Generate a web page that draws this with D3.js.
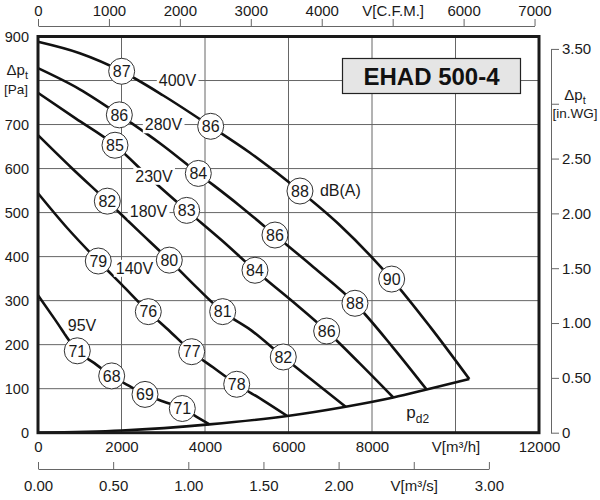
<!DOCTYPE html>
<html>
<head>
<meta charset="utf-8">
<script src="https://cdn.jsdelivr.net/npm/d3@7"></script>
<style>
  body { margin: 0; background: #fff; }
  svg { font-family: "Liberation Sans", Arial, sans-serif; }
</style>
</head>
<body>
<div id="chart"></div>
<script>
// Axis ticks
const flowTicks = [0, 2000, 4000, 6000, 8000, 10000, 12000];
const pressureTicks = [0, 100, 200, 300, 400, 500, 600, 700, 800, 900];
const cfmTicks = [0, 1000, 2000, 3000, 4000, 5000, 6000, 7000];
const m3sTicks = [0, 0.5, 1, 1.5, 2, 2.5, 3];
const inwgTicks = [0, 0.5, 1, 1.5, 2, 2.5, 3, 3.5];

// Fan curves: [V m3/h, dp Pa]
const voltages = ["400V", "280V", "230V", "180V", "140V", "95V"];
const curve400 = [[0, 888], [1000, 862], [2004, 821], [3000, 766], [4136, 696], [5077, 636], [6275, 549], [7200, 474], [8031, 395], [8471, 349], [9389, 241], [10330, 122]];
const curve280 = [[0, 828], [1000, 780], [1948, 722], [3000, 652], [3840, 589], [4800, 518], [5676, 449], [6600, 376], [7592, 294], [8500, 194], [9309, 98]];
const curve230 = [[0, 772], [900, 714], [1844, 653], [2700, 577], [3561, 505], [4400, 437], [5197, 369], [6100, 298], [6914, 231], [7700, 158], [8510, 80]];
const curve180 = [[0, 676], [800, 602], [1660, 526], [2400, 459], [3145, 392], [3800, 330], [4423, 275], [5100, 233], [5875, 172], [6600, 117], [7369, 59]];
const curve140 = [[0, 544], [700, 465], [1444, 390], [2000, 337], [2642, 275], [3150, 231], [3681, 184], [4200, 148], [4759, 110], [5400, 73], [5971, 38]];
const curve95 = [[0, 312], [400, 258], [941, 186], [1350, 158], [1765, 129], [2150, 108], [2563, 87], [3000, 71], [3456, 55], [3800, 36], [4103, 19]];
const curves = [curve400, curve280, curve230, curve180, curve140, curve95];

// Dynamic pressure pd2 line
const pd2Curve = [[0, 0], [2000, 5], [4103, 19], [5971, 38], [7369, 59], [8510, 80], [9309, 98], [10330, 122]];

// Sound level markers: [V m3/h, dp Pa, dB(A)]
const marks400 = [[2004, 821, 87], [4136, 696, 86], [6275, 549, 88], [8471, 349, 90]];
const marks280 = [[1948, 722, 86], [3840, 589, 84], [5676, 449, 86], [7592, 294, 88]];
const marks230 = [[1844, 653, 85], [3561, 505, 83], [5197, 369, 84], [6914, 231, 86]];
const marks180 = [[1660, 526, 82], [3145, 392, 80], [4423, 275, 81], [5875, 172, 82]];
const marks140 = [[1444, 390, 79], [2642, 275, 76], [3681, 184, 77], [4759, 110, 78]];
const marks95 = [[941, 186, 71], [1765, 129, 68], [2563, 87, 69], [3456, 55, 71]];
const marks = [marks400, marks280, marks230, marks180, marks140, marks95];

// Where the voltage labels sit: [V m3/h, dp Pa]
const voltageLabelPos = [[3341, 800], [3006, 700], [2778, 583], [2646, 504], [2311, 374], [1054, 245]];

const W = 600, H = 500;
const svg = d3.select("#chart").append("svg")
  .attr("width", W)
  .attr("height", H);

// Scales
const x = d3.scaleLinear().domain([0, 12000]).range([38, 539]);
const y = d3.scaleLinear().domain([0, 900]).range([432.7, 36.5]);
const xCfm = d3.scaleLinear().domain([0, 7000]).range([x(0), x(7000 * 1.699)]);
const xM3s = d3.scaleLinear().domain([0, 3]).range([x(0), x(3 * 3600)]);
const yInwg = d3.scaleLinear().domain([0, 3.5]).range([y(0), y(3.5 * 249.09)]);

const gridColor = "#666";
const textColor = "#1a1a1a";

// Grid lines
svg.append("g")
  .selectAll("line")
  .data(flowTicks.filter(d => d > 0 && d < 12000))
  .join("line")
  .attr("x1", d => x(d)).attr("x2", d => x(d))
  .attr("y1", y(0)).attr("y2", y(900))
  .attr("stroke", gridColor).attr("stroke-width", 1);

svg.append("g")
  .selectAll("line")
  .data(pressureTicks.filter(d => d > 0 && d < 900))
  .join("line")
  .attr("x1", x(0)).attr("x2", x(12000))
  .attr("y1", d => y(d)).attr("y2", d => y(d))
  .attr("stroke", gridColor).attr("stroke-width", 1);

// Fan curves
const line = d3.line()
  .x(d => x(d[0]))
  .y(d => y(d[1]))
  .curve(d3.curveMonotoneX);

svg.append("g")
  .selectAll("path")
  .data(curves)
  .join("path")
  .attr("d", line)
  .attr("fill", "none")
  .attr("stroke", "#111")
  .attr("stroke-width", 2.6);

// pd2 curve
svg.append("path")
  .attr("d", line(pd2Curve))
  .attr("fill", "none")
  .attr("stroke", "#111")
  .attr("stroke-width", 2.6);

// Voltage labels with white background
const vLabels = svg.append("g")
  .selectAll("g")
  .data(voltages)
  .join("g")
  .attr("transform", (d, i) => `translate(${x(voltageLabelPos[i][0])},${y(voltageLabelPos[i][1])})`);

vLabels.append("text")
  .attr("text-anchor", "middle")
  .attr("dy", "0.36em")
  .style("font-size", "16px")
  .attr("fill", textColor)
  .text(d => d);

vLabels.each(function () {
  const g = d3.select(this);
  const b = g.select("text").node().getBBox();
  g.insert("rect", "text")
    .attr("x", b.x - 2).attr("y", b.y)
    .attr("width", b.width + 4).attr("height", b.height)
    .attr("fill", "#fff");
});

// dB(A) and pd2 labels
svg.append("text")
  .attr("x", x(6754)).attr("y", y(550))
  .attr("dy", "0.36em")
  .style("font-size", "16px")
  .attr("fill", textColor)
  .text("dB(A)");

const pd2Label = svg.append("text")
  .attr("x", x(8820)).attr("y", y(34))
  .style("font-size", "17px")
  .attr("fill", textColor);
pd2Label.append("tspan").text("p");
pd2Label.append("tspan").attr("dy", 5).style("font-size", "12px").text("d2");

// Sound level circles
const markGroups = svg.append("g")
  .selectAll("g")
  .data(marks.flat())
  .join("g")
  .attr("transform", d => `translate(${x(d[0])},${y(d[1])})`);

markGroups.append("circle")
  .attr("r", 13)
  .attr("fill", "#fff")
  .attr("stroke", "#333")
  .attr("stroke-width", 1);

markGroups.append("text")
  .attr("text-anchor", "middle")
  .attr("dy", "0.36em")
  .style("font-size", "16px")
  .attr("fill", textColor)
  .text(d => d[2]);

// Plot border
svg.append("rect")
  .attr("x", x(0)).attr("y", y(900))
  .attr("width", x(12000) - x(0))
  .attr("height", y(0) - y(900))
  .attr("fill", "none")
  .attr("stroke", "#1a1a1a")
  .attr("stroke-width", 3);

// Title box
const titleG = svg.append("g").attr("transform", "translate(431.5,76)");
titleG.append("rect")
  .attr("x", -89).attr("y", -17.5)
  .attr("width", 178).attr("height", 35)
  .attr("fill", "#e5e5e5")
  .attr("stroke", "#222")
  .attr("stroke-width", 1.2);
titleG.append("text")
  .attr("text-anchor", "middle")
  .attr("dy", "0.36em")
  .style("font-size", "24px")
  .style("font-weight", "bold")
  .attr("fill", "#111")
  .text("EHAD 500-4");

// Axis styling helper
function styleAxis(g) {
  g.selectAll("path, line").attr("stroke", gridColor);
  g.selectAll("text").attr("fill", textColor).style("font-size", "15px");
}

// Left axis (Pa)
svg.append("g")
  .attr("transform", `translate(${x(0)},0)`)
  .call(d3.axisLeft(y).tickValues(pressureTicks).tickSize(0).tickPadding(9)
    .tickFormat(d => d === 800 ? "" : d))
  .call(g => g.select(".domain").remove())
  .call(styleAxis)
  .call(g => g.selectAll("text").style("font-size", "14.5px"));

const leftLbl = svg.append("text")
  .attr("x", 28).attr("y", 75)
  .attr("text-anchor", "end")
  .style("font-size", "15px")
  .attr("fill", textColor);
leftLbl.append("tspan").text("Δp");
leftLbl.append("tspan").attr("dy", 4).style("font-size", "11px").text("t");

svg.append("text")
  .attr("x", 28).attr("y", 94)
  .attr("text-anchor", "end")
  .style("font-size", "13.5px")
  .attr("fill", textColor)
  .text("[Pa]");

// Bottom axis (m3/h)
svg.append("g")
  .attr("transform", `translate(0,${y(0)})`)
  .call(d3.axisBottom(x).tickValues(flowTicks).tickSize(0).tickPadding(9)
    .tickFormat(d => d === 10000 ? "V[m³/h]" : d))
  .call(g => g.select(".domain").remove())
  .call(styleAxis);

// Second bottom axis (m3/s)
svg.append("g")
  .attr("transform", "translate(0,469)")
  .call(d3.axisBottom(xM3s).tickValues(m3sTicks).tickSize(-7).tickSizeOuter(0).tickPadding(11)
    .tickFormat(d => d === 2.5 ? "V[m³/s]" : d3.format(".2f")(d)))
  .call(styleAxis);

// Top axis (CFM)
svg.append("g")
  .attr("transform", "translate(0,26)")
  .call(d3.axisTop(xCfm).tickValues(cfmTicks).tickSize(7).tickSizeOuter(0).tickPadding(3)
    .tickFormat(d => d === 5000 ? "V[C.F.M.]" : d))
  .call(styleAxis);

// Right axis (in.WG)
svg.append("g")
  .attr("transform", "translate(551,0)")
  .call(d3.axisRight(yInwg).tickValues(inwgTicks).tickSize(8).tickSizeOuter(0).tickPadding(3)
    .tickFormat(d => d === 3 ? "" : (d === 0 ? "0" : d3.format(".2f")(d))))
  .call(styleAxis);

const rightLbl = svg.append("text")
  .attr("x", 575).attr("y", 100)
  .attr("text-anchor", "middle")
  .style("font-size", "15px")
  .attr("fill", textColor);
rightLbl.append("tspan").text("Δp");
rightLbl.append("tspan").attr("dy", 4).style("font-size", "11px").text("t");

svg.append("text")
  .attr("x", 575).attr("y", 118)
  .attr("text-anchor", "middle")
  .style("font-size", "13.5px")
  .attr("fill", textColor)
  .text("[in.WG]");
</script>
</body>
</html>
